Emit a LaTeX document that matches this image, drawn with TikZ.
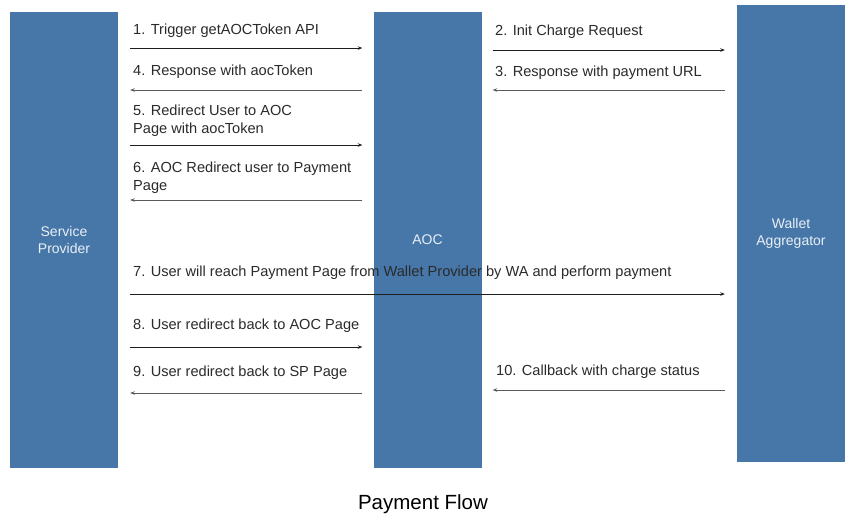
\documentclass[tikz,border=0pt]{standalone}
\usepackage{fontspec}
\setmainfont{Liberation Sans}
\usetikzlibrary{arrows.meta}
\definecolor{barblue}{HTML}{4677A8}
\definecolor{txt}{HTML}{2A2A2A}
\definecolor{rline}{HTML}{1E1E1E}
\definecolor{lline}{HTML}{5A5A5A}
\tikzset{
  bar/.style={fill=barblue, draw=none, inner sep=0pt, minimum width=108pt,
    minimum height=456pt, text=white!88!barblue, align=center,
    font=\fontsize{14}{17}\selectfont},
  lbl/.style={anchor=base west, inner sep=0pt, text=txt, align=left,
    font=\fontsize{14.6}{18}\selectfont},
  rarr/.style={draw=rline, line width=0.9pt, -{Stealth[length=4.5pt,width=3.5pt]}},
  larr/.style={draw=lline, line width=0.9pt, -{Stealth[length=4.5pt,width=3.5pt]}},
}
\begin{document}
\begin{tikzpicture}[x=1pt,y=-1pt]
\useasboundingbox (0,0) rectangle (853,520);
\node[bar] (sp) at (64,240) {Service\\Provider};
\node[bar] (aoc) at (427.5,240) {AOC};
\node[bar, minimum height=457pt] (wa) at (791,233.5) {Wallet\\Aggregator};

% SP <-> AOC
\draw[rarr, shorten <=12pt, shorten >=11pt] (sp.east |- 0,48) -- (aoc.west |- 0,48);
\node[lbl] (l1) at (133,34) {1. Trigger getAOCToken API};
\draw[larr, shorten <=11pt, shorten >=12pt] (aoc.west |- 0,90) -- (sp.east |- 0,90);
\node[lbl] (l4) at (133,75) {4. Response with aocToken};
\draw[rarr, shorten <=12pt, shorten >=11pt] (sp.east |- 0,145) -- (aoc.west |- 0,145);
\node[lbl] (l5) at (133,133) {5. Redirect User to AOC\\Page with aocToken};
\draw[larr, shorten <=11pt, shorten >=12pt] (aoc.west |- 0,200) -- (sp.east |- 0,200);
\node[lbl] (l6) at (133,190) {6. AOC Redirect user to Payment\\Page};

% AOC <-> WA
\draw[rarr, shorten <=11pt, shorten >=12pt] (aoc.east |- 0,50) -- (wa.west |- 0,50);
\node[lbl] (l2) at (495,35) {2. Init Charge Request};
\draw[larr, shorten <=12pt, shorten >=11pt] (wa.west |- 0,90) -- (aoc.east |- 0,90);
\node[lbl] (l3) at (495,76) {3. Response with payment URL};

% SP -> WA
\draw[rarr, shorten <=12pt, shorten >=12pt] (sp.east |- 0,294) -- (wa.west |- 0,294);
\node[lbl] (l7) at (133,276) {7. User will reach Payment Page from Wallet Provider by WA and perform payment};

\draw[rarr, shorten <=12pt, shorten >=11pt] (sp.east |- 0,347) -- (aoc.west |- 0,347);
\node[lbl] (l8) at (133,329) {8. User redirect back to AOC Page};
\draw[larr, shorten <=11pt, shorten >=12pt] (aoc.west |- 0,393) -- (sp.east |- 0,393);
\node[lbl] (l9) at (133,376) {9. User redirect back to SP Page};
\draw[larr, shorten <=12pt, shorten >=11pt] (wa.west |- 0,390) -- (aoc.east |- 0,390);
\node[lbl] (l10) at (496,375) {10. Callback with charge status};

\node[anchor=base, inner sep=0pt, text=black, font=\fontsize{20.5}{23}\selectfont] (title) at (423,509) {Payment Flow};
\end{tikzpicture}
\end{document}
